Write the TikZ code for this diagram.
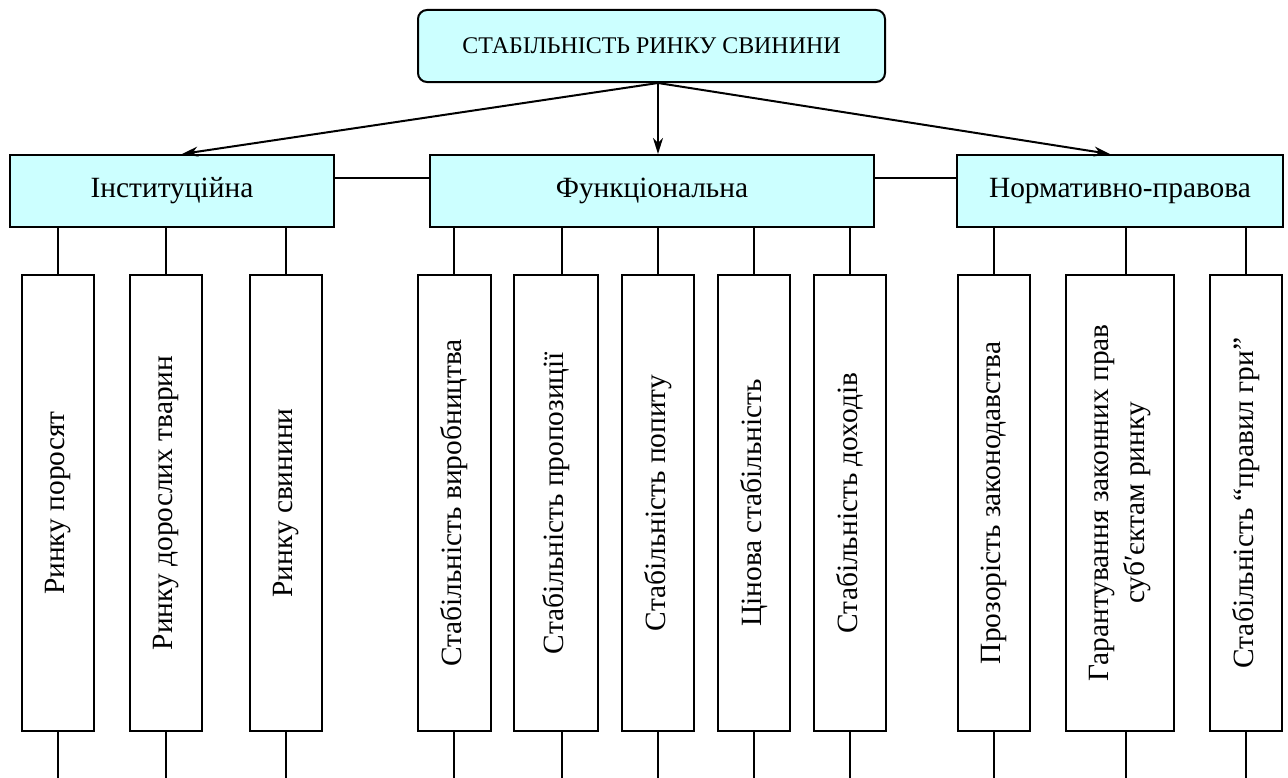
\documentclass[tikz,border=0pt]{standalone}
\usepackage{fontspec}
\setmainfont{Liberation Serif}
\usepackage{tikz}
\usetikzlibrary{calc, positioning, arrows.meta}

\definecolor{boxcyan}{RGB}{204,255,255}

\tikzset{
    rootbox/.style={
        draw, fill=boxcyan, rounded corners=9bp,
        minimum width=467bp, minimum height=72bp,
        font=\fontsize{24}{28}\selectfont,
    },
    groupbox/.style={
        draw, fill=boxcyan,
        minimum height=72bp,
        font=\fontsize{29.5}{33}\selectfont,
    },
    leafbox/.style={
        draw, fill=white, rotate=90,
        minimum width=456bp,
        align=center,
        font=\fontsize{29.5}{36}\selectfont,
    },
    arr/.style={-{Stealth[length=16bp, width=10bp, inset=5bp]}},
}

\begin{document}
\begin{tikzpicture}[
        x=1bp, y=-1bp,
        line width=2bp,
    ]

    \useasboundingbox (0,0) rectangle (1288,778);

    \def\ymid{503}
    \def\ybottom{778}

    % top
    \node[rootbox] (root) at (651.5,46) {СТАБІЛЬНІСТЬ РИНКУ СВИНИНИ};

    % second level
    \node[groupbox, minimum width=324bp] (inst) at (172,191) {Інституційна};
    \node[groupbox, minimum width=444bp] (func) at (652,191) {Функціональна};
    \node[groupbox, minimum width=326bp] (norm) at (1120,191) {Нормативно-правова};

    \coordinate (src) at ($(root.south)+(6.5,0)$);
    \coordinate (bottom) at (0,\ybottom);

    \draw[arr] (src) -- ([xshift=10bp]inst.north);
    \draw[arr] (src) -- (src |- func.north);
    \draw[arr] (src) -- ([xshift=-10bp]norm.north);

    \draw ([yshift=13bp]inst.east) -- ([yshift=13bp]inst.east -| func.west);
    \draw ([yshift=13bp]func.east) -- ([yshift=13bp]func.east -| norm.west);

    % third level
    \foreach \i/\x/\w/\lx/\grp/\txt in {
        1/58/72/58/inst/{Ринку поросят},
        2/166/72/166/inst/{Ринку дорослих тварин},
        3/286/72/286/inst/{Ринку свинини},
        4/454/73/454/func/{Стабільність виробництва},
        5/556/84/562/func/{Стабільність пропозиції},
        6/658/72/658/func/{Стабільність попиту},
        7/754/72/754/func/{Цінова стабільність},
        8/850/72/850/func/{Стабільність доходів},
        9/994/72/994/norm/{Прозорість законодавства},
        10/1120/108/1126/norm/{Гарантування законних прав\\суб′єктам ринку},
        11/1246/72/1246/norm/{Стабільність “правил гри”}%
    }{
        \node[leafbox, minimum height=\w bp] (leaf\i) at (\x,\ymid) {\txt};
        \coordinate (c\i) at (\lx,\ymid);
        \draw (\grp.south -| c\i) -- (c\i |- leaf\i.east);
        \draw (c\i |- leaf\i.west) -- (c\i |- bottom);
    }

\end{tikzpicture}
\end{document}
